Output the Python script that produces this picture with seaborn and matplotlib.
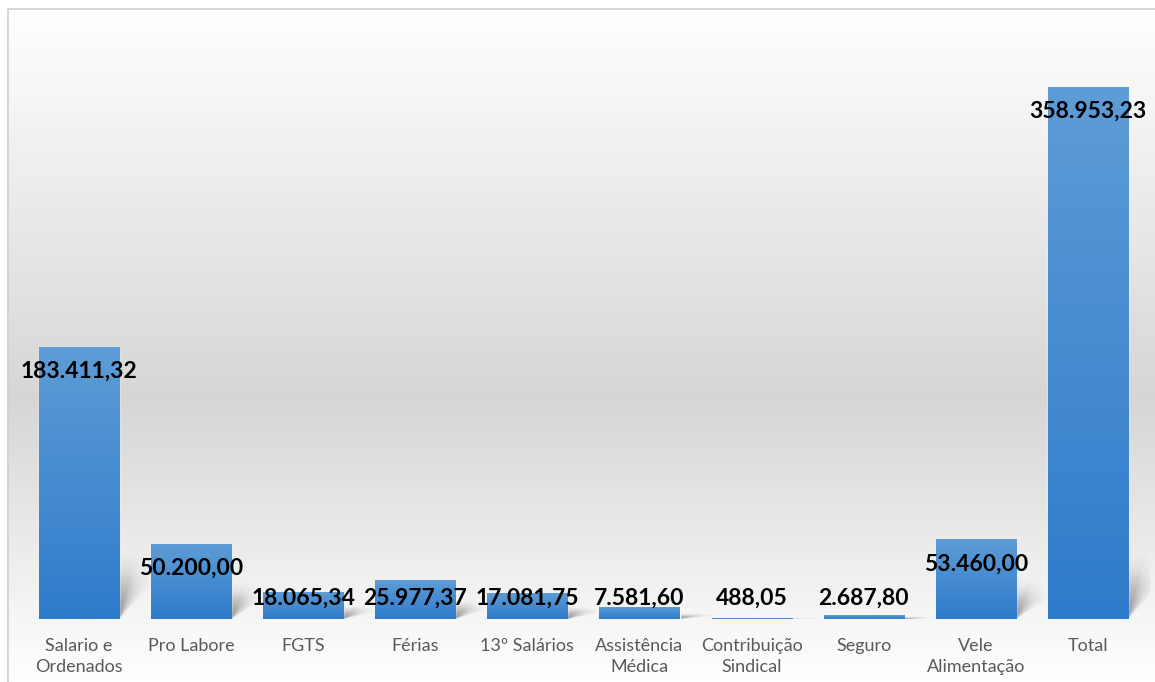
import numpy as np
import matplotlib
matplotlib.use('Agg')
import matplotlib.pyplot as plt
from matplotlib.colors import LinearSegmentedColormap, to_rgb
from matplotlib.patches import Polygon
import seaborn as sns

# Dados do gráfico (valores em R$)
categorias = ['Salario e Ordenados', 'Pro Labore', 'FGTS', 'Férias', '13º Salários',
              'Assistência Médica', 'Contribuição Sindical', 'Seguro', 'Vele Alimentação', 'Total']
rotulos = ['Salario e\nOrdenados', 'Pro Labore', 'FGTS', 'Férias', '13º Salários',
           'Assistência\nMédica', 'Contribuição\nSindical', 'Seguro', 'Vele\nAlimentação', 'Total']
valores = [183411.32, 50200.00, 18065.34, 25977.37, 17081.75,
           7581.60, 488.05, 2687.80, 53460.00, 358953.23]

sns.set_theme(style='white')
plt.rcParams['font.family'] = ['Lato', 'DejaVu Sans']


def fmt_br(v):
    s = f'{v:,.2f}'
    return s.replace(',', 'X').replace('.', ',').replace('X', '.')


W, H = 1155, 682
fig = plt.figure(figsize=(W / 100, H / 100), dpi=100)
fig.patch.set_facecolor('white')

# fundo com degradê (branco -> cinza -> branco)
bg = fig.add_axes([0, 0, 1, 1], zorder=0)
bg.set_xlim(0, W)
bg.set_ylim(H, 0)
bg.axis('off')
cmap_bg = LinearSegmentedColormap.from_list(
    'bg', [(0.0, '#ffffff'), (0.58, '#d6d6d6'), (1.0, '#ffffff')])
grad = np.linspace(0, 1, 256).reshape(-1, 1)
bg.imshow(grad, cmap=cmap_bg, aspect='auto', extent=(8, W, H, 9), vmin=0, vmax=1)
bg.plot([8, 8, W], [H, 9, 9], color='#d0d0d0', lw=1.2)

# área do gráfico
ax = fig.add_axes([8 / W, 63 / H, 1142 / W, 609 / H], zorder=1)
ax.patch.set_alpha(0)
sns.barplot(x=categorias, y=valores, color='#4a8fd3', width=0.714, saturation=1, ax=ax)

cmap_bar = LinearSegmentedColormap.from_list('bar', ['#2f7bcb', '#5d9cd6'])
sombra_rgb = to_rgb('#666666')
for p in list(ax.patches):
    x, w, h = p.get_x(), p.get_width(), p.get_height()
    # sombra em perspectiva (várias camadas para suavizar)
    hs0 = min(0.48 * h, 43000)
    for k in range(6):
        dx = 0.18 + 0.035 * k
        hs = hs0 * (1.1 - 0.08 * k)
        if hs <= 0:
            continue
        poly = Polygon([(x, 0), (x + w, 0), (x + w + dx, hs), (x + dx, hs)],
                       closed=True, facecolor='none', edgecolor='none')
        ax.add_patch(poly)
        sh = np.zeros((64, 1, 4))
        sh[..., :3] = sombra_rgb
        sh[:, 0, 3] = 0.17 * np.linspace(1.0, 0.0, 64) ** 1.1
        im = ax.imshow(sh, origin='lower', aspect='auto', interpolation='bilinear',
                       extent=(x, x + w + dx, 0, hs), zorder=1)
        im.set_clip_path(poly)
    # degradê da barra
    p.set_zorder(2)
    if h > 0:
        ax.imshow(np.linspace(0, 1, 128).reshape(-1, 1), cmap=cmap_bar, origin='lower',
                  aspect='auto', extent=(x, x + w, 0, h), zorder=3, interpolation='bilinear')

ax.set_xlim(-0.633, 9.554)
ax.set_ylim(0, 411000)

# rótulos de valor
for i, v in enumerate(valores):
    y = max(v - 16200, 14200)
    ax.text(i, y, fmt_br(v), ha='center', va='center', fontsize=16.5,
            fontweight='bold', color='black', zorder=5)

ax.set_xticks(range(len(rotulos)))
ax.set_xticklabels(rotulos, fontsize=13, color='#595959', linespacing=1.42)
ax.tick_params(axis='x', length=0, pad=13.5)
ax.set_yticks([])
ax.set_xlabel('')
ax.set_ylabel('')
sns.despine(ax=ax, left=True, bottom=True)

plt.savefig('out.png', dpi=100)
